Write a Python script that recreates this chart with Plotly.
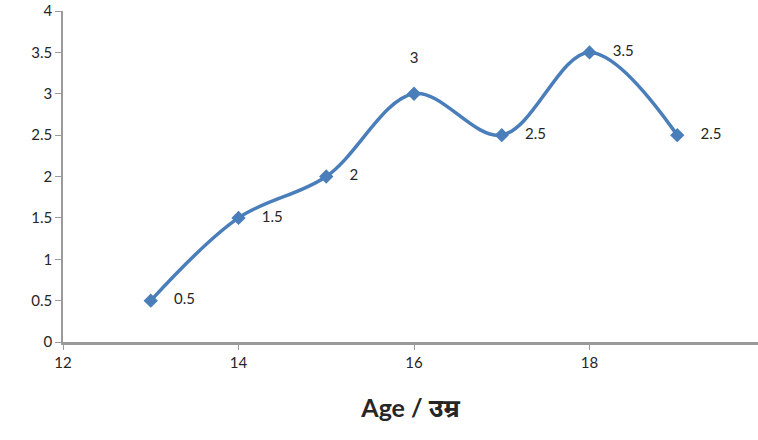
import plotly.graph_objects as go

ages = [13, 14, 15, 16, 17, 18, 19]
values = [0.5, 1.5, 2, 3, 2.5, 3.5, 2.5]
labels = ["0.5", "1.5", "2", "3", "2.5", "3.5", "2.5"]
label_pos = ["middle right", "middle right", "middle right", "top center",
             "middle right", "middle right", "middle right"]
x_ticks = [12, 14, 16, 18]
y_ticks = [0, 0.5, 1, 1.5, 2, 2.5, 3, 3.5, 4]
y_tick_text = ["0", "0.5", "1", "1.5", "2", "2.5", "3", "3.5", "4"]

FONT = "Lato, Open Sans, sans-serif"
TXT = "#262626"

texts = []
for t, p in zip(labels, label_pos):
    if p == "middle right":
        texts.append("    " + t)
    else:
        texts.append(t + "<br><span style='font-size:7px'> </span>")

fig = go.Figure()
fig.add_trace(go.Scatter(
    x=ages, y=values,
    mode="lines+markers+text",
    line=dict(color="#4A7EBB", width=3.5, shape="spline", smoothing=1.0),
    marker=dict(symbol="diamond", size=11, color="#4A7EBB"),
    text=texts,
    textposition=label_pos,
    textfont=dict(family=FONT, size=15, color=TXT),
    cliponaxis=False,
    showlegend=False,
))

fig.add_annotation(x=20, y=0, xref="x", yref="y", text="20", showarrow=False,
                   yanchor="top", yshift=-10, xshift=-6,
                   font=dict(family=FONT, size=15, color=TXT))

fig.update_layout(
    width=758, height=440,
    margin=dict(l=63, r=0, t=11, b=98, autoexpand=False),
    paper_bgcolor="white", plot_bgcolor="white",
    font=dict(family=FONT, color=TXT),
    xaxis=dict(
        range=[12, 19.92], tickvals=x_ticks, ticktext=[str(t) for t in x_ticks],
        showgrid=False, zeroline=False, showline=True, linecolor="#9a9a9a", linewidth=3,
        ticks="outside", ticklen=5, tickcolor="#9a9a9a", tickwidth=1,
        tickfont=dict(size=15, color=TXT), ticklabeloverflow="allow", automargin=False,
        title=dict(text="<b>Age / उम्र</b>", standoff=30,
                   font=dict(size=25, color=TXT,
                             family="Lato, Noto Sans, Noto Sans Devanagari, sans-serif")),
    ),
    yaxis=dict(
        range=[0, 4], tickvals=y_ticks, ticktext=y_tick_text,
        showgrid=False, zeroline=False, showline=True, linecolor="#9a9a9a", linewidth=1.5,
        ticks="outside", ticklen=6, tickcolor="#9a9a9a", tickwidth=1,
        tickfont=dict(size=15, color=TXT), ticklabeloverflow="allow", automargin=False,
    ),
)

fig.write_html("out.html", config={"displayModeBar": False},
               post_script="document.body.style.margin='0';")
